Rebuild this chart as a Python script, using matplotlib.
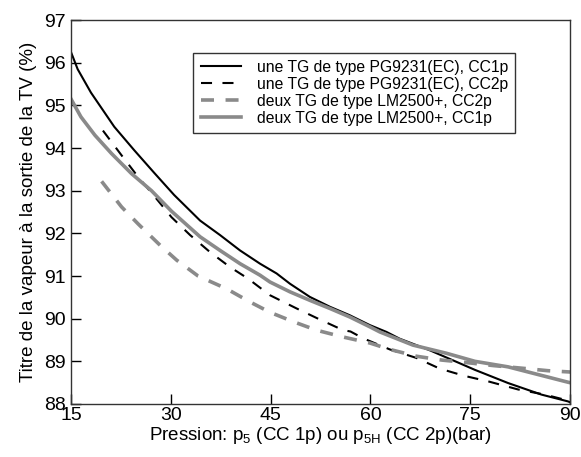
import matplotlib
matplotlib.use("Agg")
import matplotlib.pyplot as plt

plt.rcParams['font.family'] = ['Liberation Sans', 'DejaVu Sans']
plt.rcParams['mathtext.default'] = 'regular'

# une TG PG9231(EC), CC1p
x_pg1 = [15, 16, 18, 21.5, 24.5, 27.5, 30.5, 34.4, 37.4, 40.4, 43.4, 45.9,
         47.9, 50.9, 53.9, 56.9, 59.9, 62.4, 64.4, 68.9, 72.9, 75.7, 80.7,
         85.7, 89.7, 90]
y_pg1 = [96.25, 95.85, 95.3, 94.5, 93.95, 93.42, 92.9, 92.3, 91.96, 91.6,
         91.29, 91.06, 90.82, 90.51, 90.28, 90.08, 89.85, 89.69, 89.53, 89.26,
         88.99, 88.8, 88.49, 88.22, 88.06, 88.04]

# une TG PG9231(EC), CC2p
x_pg2 = [19.8, 22.6, 25.1, 27.8, 30.1, 32.9, 35.9, 38.9, 41.6, 44.9, 48.9,
         52.4, 55.9, 57, 58.9, 62.9, 66.9, 70.4, 74.1, 77.7, 82.2, 86.2,
         89.7, 90]
y_pg2 = [94.41, 93.83, 93.32, 92.82, 92.38, 91.96, 91.56, 91.21, 90.94,
         90.55, 90.24, 89.98, 89.73, 89.7, 89.54, 89.28, 89.08, 88.83, 88.66,
         88.53, 88.34, 88.22, 88.08, 88.05]

# deux TG LM2500+, CC2p
x_lm2 = [19.6, 22.6, 25.1, 28.4, 30.9, 34.1, 38.4, 41.8, 44.9, 48.4, 51.9,
         55.9, 59.9, 62.9, 66.9, 70.7, 74.5, 78.5, 82.7, 86.7, 90]
y_lm2 = [93.22, 92.62, 92.22, 91.72, 91.37, 91.0, 90.7, 90.4, 90.15, 89.93,
         89.73, 89.57, 89.43, 89.28, 89.12, 89.03, 88.97, 88.9, 88.84, 88.78,
         88.75]

# deux TG LM2500+, CC1p
x_lm1 = [15, 16.5, 18.6, 21.1, 24.1, 27.1, 30.1, 34.4, 37.4, 40.4, 43.4,
         44.9, 47.9, 50.9, 53.9, 56.9, 59.9, 61.4, 66.4, 71.4, 75.7, 80.7,
         85.7, 89.7, 90]
y_lm1 = [95.15, 94.73, 94.3, 93.87, 93.4, 93.0, 92.52, 91.92, 91.6, 91.29,
         91.02, 90.86, 90.63, 90.43, 90.24, 90.04, 89.81, 89.69, 89.38, 89.19,
         89.0, 88.87, 88.67, 88.51, 88.5]

labels = ["une TG de type PG9231(EC), CC1p",
          "une TG de type PG9231(EC), CC2p",
          "deux TG de type LM2500+, CC2p",
          "deux TG de type LM2500+, CC1p"]

gray = "#8a8a8a"

fig = plt.figure(figsize=(5.81, 4.57), dpi=100)
ax = fig.add_axes([0.1222, 0.116, 0.859, 0.84])

ax.plot(x_pg1, y_pg1, color="black", lw=1.5, label=labels[0])
ax.plot(x_pg2, y_pg2, color="black", lw=1.5, dashes=(5.3, 5.0), label=labels[1])
ax.plot(x_lm2, y_lm2, color=gray, lw=2.6, dashes=(3.6, 3.2), label=labels[2])
ax.plot(x_lm1, y_lm1, color=gray, lw=2.6, label=labels[3])

ax.set_xlim(15, 90)
ax.set_ylim(88, 97)
ax.set_xticks(range(15, 91, 15))
ax.set_yticks(range(88, 98))
ax.tick_params(direction="in", length=7, width=1, labelsize=14,
               top=False, right=False)
ax.tick_params(axis="y", pad=4)
ax.tick_params(axis="x", pad=2)
for s in ax.spines.values():
    s.set_color("#333333")
    s.set_linewidth(1)

ax.set_xlabel("Pression: p$_5$ (CC 1p) ou p$_{5H}$ (CC 2p)(bar)", fontsize=13.5, labelpad=1)
ax.set_ylabel("Titre de la vapeur à la sortie de la TV (%)", fontsize=13.5, labelpad=5)

leg = ax.legend(loc="upper right", bbox_to_anchor=(0.906, 0.935), fontsize=11.3,
                fancybox=False, framealpha=1, edgecolor="#333333",
                handlelength=2.6, handletextpad=1.0, labelspacing=0.12,
                borderpad=0.45)
leg.get_frame().set_linewidth(1)

fig.savefig("out.png", dpi=100)
